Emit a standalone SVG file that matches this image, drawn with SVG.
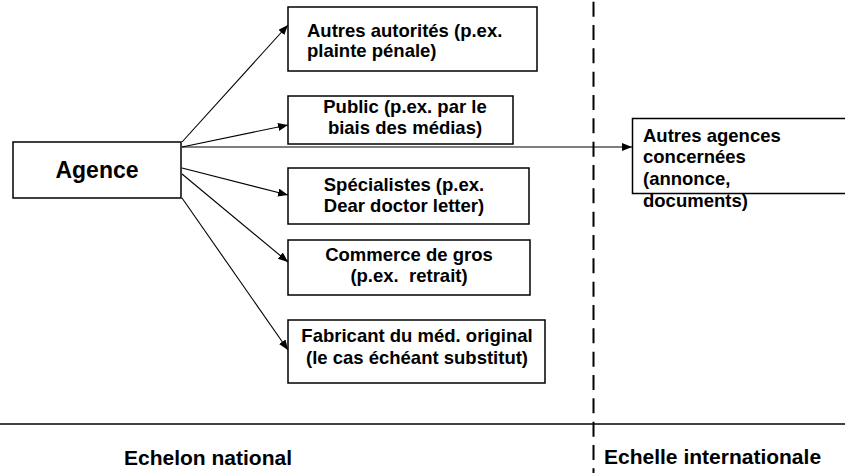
<svg xmlns="http://www.w3.org/2000/svg" width="845" height="473" viewBox="0 0 845 473">
<defs>
<style>
.box{fill:#fff;stroke:#000;stroke-width:1.5}
.t{font-family:"Liberation Sans",Arial,sans-serif;font-weight:bold;font-size:18.5px;fill:#000}
.c{text-anchor:middle}
.lbl{font-family:"Liberation Sans",Arial,sans-serif;font-weight:bold;font-size:21px;fill:#000}
.conn{stroke:#000;stroke-width:1.1;fill:none;marker-end:url(#ah)}
</style>
<marker id="ah" markerUnits="userSpaceOnUse" markerWidth="11" markerHeight="9" refX="10" refY="4" orient="auto">
<path d="M0,0 L10,4 L0,8 z" fill="#000"/>
</marker>
</defs>
<rect width="845" height="473" fill="#fff"/>
<g id="separators">
<line x1="593.5" y1="1.7" x2="593.5" y2="473" stroke="#000" stroke-width="2" stroke-dasharray="15 8.33"/>
<line x1="0" y1="424" x2="845" y2="424" stroke="#000" stroke-width="1.5"/>
</g>
<g id="connectors">
<line class="conn" x1="182" y1="142" x2="288" y2="25"/>
<line class="conn" x1="182" y1="147" x2="288" y2="125"/>
<line class="conn" x1="182" y1="147" x2="632" y2="147"/>
<line class="conn" x1="182" y1="168" x2="288" y2="195"/>
<line class="conn" x1="182" y1="174" x2="288" y2="262"/>
<line class="conn" x1="182" y1="198" x2="288" y2="350"/>
</g>
<g id="agence">
<rect class="box" x="13" y="142" width="168" height="56"/>
<text class="t c" x="97" y="178" style="font-size:23px">Agence</text>
</g>
<g id="autres-autorites">
<rect class="box" x="288" y="7" width="249" height="64"/>
<text class="t" x="307" y="36.5">Autres autorités (p.ex.</text>
<text class="t" x="307" y="56.5">plainte pénale)</text>
</g>
<g id="public">
<rect class="box" x="288" y="96" width="225" height="48"/>
<text class="t c" x="405" y="113">Public (p.ex. par le</text>
<text class="t c" x="405" y="134">biais des médias)</text>
</g>
<g id="specialistes">
<rect class="box" x="288" y="168" width="241" height="56"/>
<text class="t c" x="404" y="191">Spécialistes (p.ex.</text>
<text class="t c" x="404" y="212">Dear doctor letter)</text>
</g>
<g id="commerce">
<rect class="box" x="288" y="240" width="242" height="55"/>
<text class="t c" x="409" y="261">Commerce de gros</text>
<text class="t c" x="409" y="282" xml:space="preserve">(p.ex.  retrait)</text>
</g>
<g id="fabricant">
<rect class="box" x="288" y="320" width="257" height="63"/>
<text class="t c" x="417" y="342">Fabricant du méd. original</text>
<text class="t c" x="417" y="364">(le cas échéant substitut)</text>
</g>
<g id="autres-agences">
<rect class="box" x="632.5" y="118.5" width="230" height="75"/>
<text class="t" x="643" y="141.7">Autres agences</text>
<text class="t" x="643" y="163.3">concernées</text>
<text class="t" x="643" y="185">(annonce,</text>
<text class="t" x="643" y="206.7">documents)</text>
</g>
<g id="labels">
<text class="lbl c" x="208" y="465">Echelon national</text>
<text class="lbl" x="604" y="464">Echelle internationale</text>
</g>
</svg>
